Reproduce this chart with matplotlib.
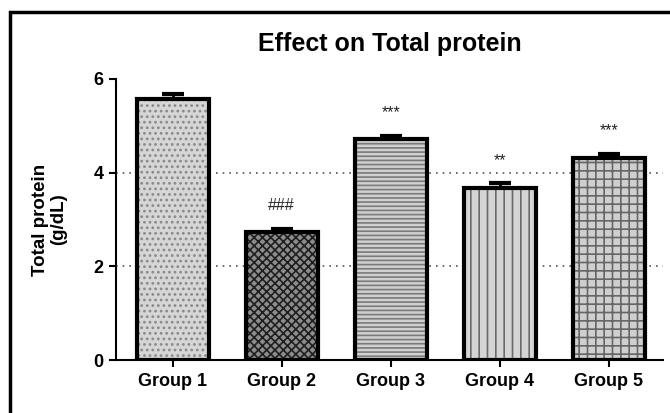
import numpy as np
import matplotlib
matplotlib.use("Agg")
import matplotlib.pyplot as plt
from matplotlib.patches import Rectangle

plt.rcParams['font.family'] = ['Liberation Sans', 'DejaVu Sans']
plt.rcParams['hatch.linewidth'] = 1.2

groups = ['Group 1', 'Group 2', 'Group 3', 'Group 4', 'Group 5']
protein = [5.57, 2.74, 4.71, 3.67, 4.32]
sem = [0.11, 0.06, 0.08, 0.10, 0.08]
stars = ['', '###', '***', '**', '***']

# fill / hatch style per bar
fills = ['#d6d6d6', '#8c8c8c', '#d0d0d0', '#d4d4d4', '#cfcfcf']
hatches = ['...', 'xxxx', '----', '||', '++']
hatch_cols = ['#8a8a8a', '#1e1e1e', '#7a7a7a', '#6a6a6a', '#666666']

fig = plt.figure(figsize=(6.7, 4.13), dpi=100)
ax = fig.add_axes([0.173, 0.128, 0.817, 0.681])

x = np.arange(len(groups))
w = 0.66
for i in range(len(groups)):
    ax.bar(x[i], protein[i], w, color=fills[i], hatch=hatches[i],
           edgecolor=hatch_cols[i], linewidth=0, zorder=2)
ax.bar(x, protein, w, fill=False, edgecolor='black', linewidth=3, zorder=3)
ax.errorbar(x, protein, yerr=[np.zeros(len(sem)), sem], fmt='none',
            ecolor='black', elinewidth=2, capsize=8, capthick=3, zorder=1)

for i, s in enumerate(stars):
    if s:
        ax.text(x[i], protein[i] + sem[i] + 0.33, s, ha='center', va='bottom',
                fontsize=11.5, color='#222222')

for yv in [2, 4]:
    ax.axhline(yv, color='#555555', linestyle=(0, (1, 3)), linewidth=1.2, zorder=0)

ax.set_xlim(-0.52, 4.5)
ax.set_ylim(0, 6)
ax.set_yticks([0, 2, 4, 6])
ax.set_xticks(x)
ax.set_xticklabels(groups)
for lab in ax.get_xticklabels() + ax.get_yticklabels():
    lab.set_fontweight('bold')
    lab.set_fontsize(13)
ax.tick_params(width=1.5, length=5, pad=4)
ax.spines['top'].set_visible(False)
ax.spines['right'].set_visible(False)
ax.spines['left'].set_linewidth(1.5)
ax.spines['bottom'].set_linewidth(1.5)

ax.set_title('Effect on Total protein', fontsize=18, fontweight='bold', pad=20)
ax.set_ylabel('Total protein\n(g/dL)', fontsize=13.5, fontweight='bold',
              labelpad=19, linespacing=1.1)

# outer frame
fig.patches.append(Rectangle((9.5 / 670, -0.1), 1.2, (413 - 12) / 413 + 0.1,
                             transform=fig.transFigure, fill=False,
                             edgecolor='black', linewidth=2.5))

fig.savefig('out.png', dpi=100)
